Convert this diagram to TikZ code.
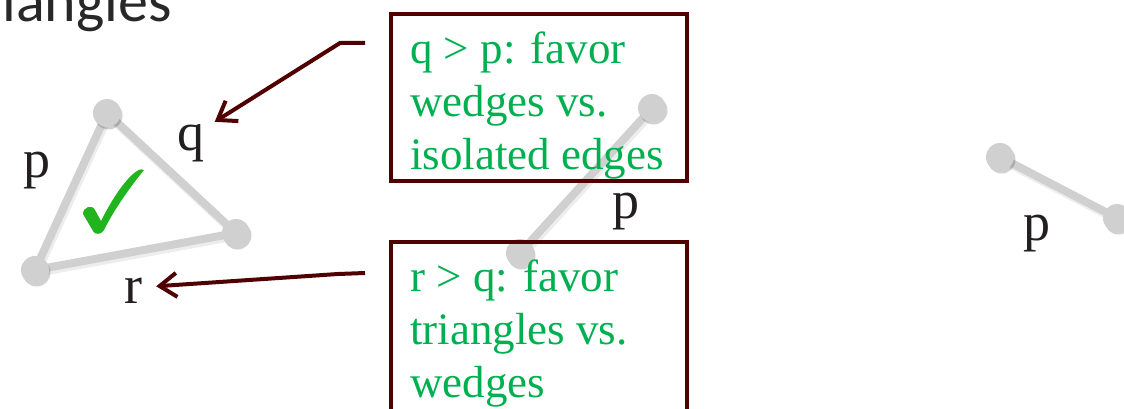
\documentclass[tikz,border=0pt]{standalone}
\usepackage{fontspec}
\setmainfont{Liberation Serif}
\newfontfamily\titlefont{Carlito}
\usepackage{tikz}
\usetikzlibrary{arrows.meta, positioning, shadows}
\usepackage{xcolor}
\definecolor{nodegray}{RGB}{208,208,208}
\definecolor{boxred}{RGB}{80,0,0}
\definecolor{notegreen}{RGB}{0,176,80}
\definecolor{labelblack}{RGB}{35,31,32}
\definecolor{checkgreen}{RGB}{34,180,30}
\definecolor{titlegray}{RGB}{40,40,40}

\tikzset{
  vertex/.style={circle, fill=nodegray, minimum size=28pt, inner sep=0pt,
    drop shadow={shadow xshift=1.5pt, shadow yshift=-2.5pt, fill=black, opacity=.18}},
  link/.style={draw=nodegray, line width=8pt,
    preaction={draw=black, opacity=.07, line width=9pt,
      transform canvas={shift={(1.5pt,-2.5pt)}}}},
  wlabel/.style={text=labelblack, font=\fontsize{54}{60}\selectfont, inner sep=0pt, anchor=base},
  notebox/.style={draw=boxred, line width=4pt, minimum width=296pt},
  notetext/.style={text=notegreen, font=\fontsize{45}{53}\selectfont, align=left,
    inner sep=0pt, anchor=north west},
  pointer/.style={draw=boxred, line width=4pt, -{Straight Barb[length=17pt, width=24pt]}}
}

\begin{document}
\begin{tikzpicture}[x=1pt, y=-1pt]
  \useasboundingbox (0,0) rectangle (1124,409);
  \clip (0,0) rectangle (1124,409);

  % Title (cut off)
  \node[font=\titlefont\fontsize{60}{64}\selectfont, text=titlegray, anchor=base east, inner sep=0pt]
    (title) at (172,22) {Triangles};

  % Triangle
  \coordinate (ta) at (107,113);
  \coordinate (tb) at (236,233);
  \coordinate (tc) at (35,270);
  \draw[link] (ta) -- (tb) -- (tc) -- cycle;
  \node[vertex] (va) at (ta) {};
  \node[vertex] (vb) at (tb) {};
  \node[vertex] (vc) at (tc) {};
  % check mark
  \fill[checkgreen] (83,214) .. controls (83,207) and (92,204) .. (95,210) -- (101,221)
    .. controls (112,199) and (126,178) .. (137,171) .. controls (140,169) and (143,169) .. (144,170)
    .. controls (131,186) and (115,208) .. (104,230) .. controls (101,235) and (95,235) .. (93,231) -- cycle;
  \node[wlabel] (p1) at (37,177) {p};
  \node[wlabel] (q1) at (191,150) {q};
  \node[wlabel] (r1) at (133,303) {r};

  % Wedge / single edge (middle)
  \coordinate (ma) at (652,108);
  \coordinate (mb) at (520,253);
  \draw[link] (ma) -- (mb);
  \node[vertex] (wa) at (ma) {};
  \node[vertex] (wb) at (mb) {};
  \node[wlabel] (p2) at (626,218) {p};

  % Isolated edge (right)
  \coordinate (ia) at (1000,157);
  \coordinate (ib) at (1117,218);
  \draw[link] (ia) -- (ib);
  \node[vertex] (xa) at (ia) {};
  \node[vertex] (xb) at (ib) {};
  \node[wlabel] (p3) at (1037,240) {p};

  % Notes
  \node[notebox, minimum height=167pt] (qbox) at (539,97.5) {};
  \node[notetext] (qtext) at (410,32) {q > p: favor\\wedges vs.\\isolated edges};
  \node[notebox, minimum height=218pt] (rbox) at (539,351) {};
  \node[notetext] (rtext) at (410,260) {r > q: favor\\triangles vs.\\wedges};

  % Pointers
  \coordinate (qfrom) at (365,43);
  \coordinate (qbend) at (340,43);
  \coordinate (rfrom) at (365,273);
  \coordinate (rbend) at (338,274);
  \draw[pointer] (qfrom) -- (qbend) -- ([shift={(10,-2)}]q1.north east);
  \draw[pointer] (rfrom) -- (rbend) -- ([shift={(14,-4)}]r1.east);
\end{tikzpicture}
\end{document}
